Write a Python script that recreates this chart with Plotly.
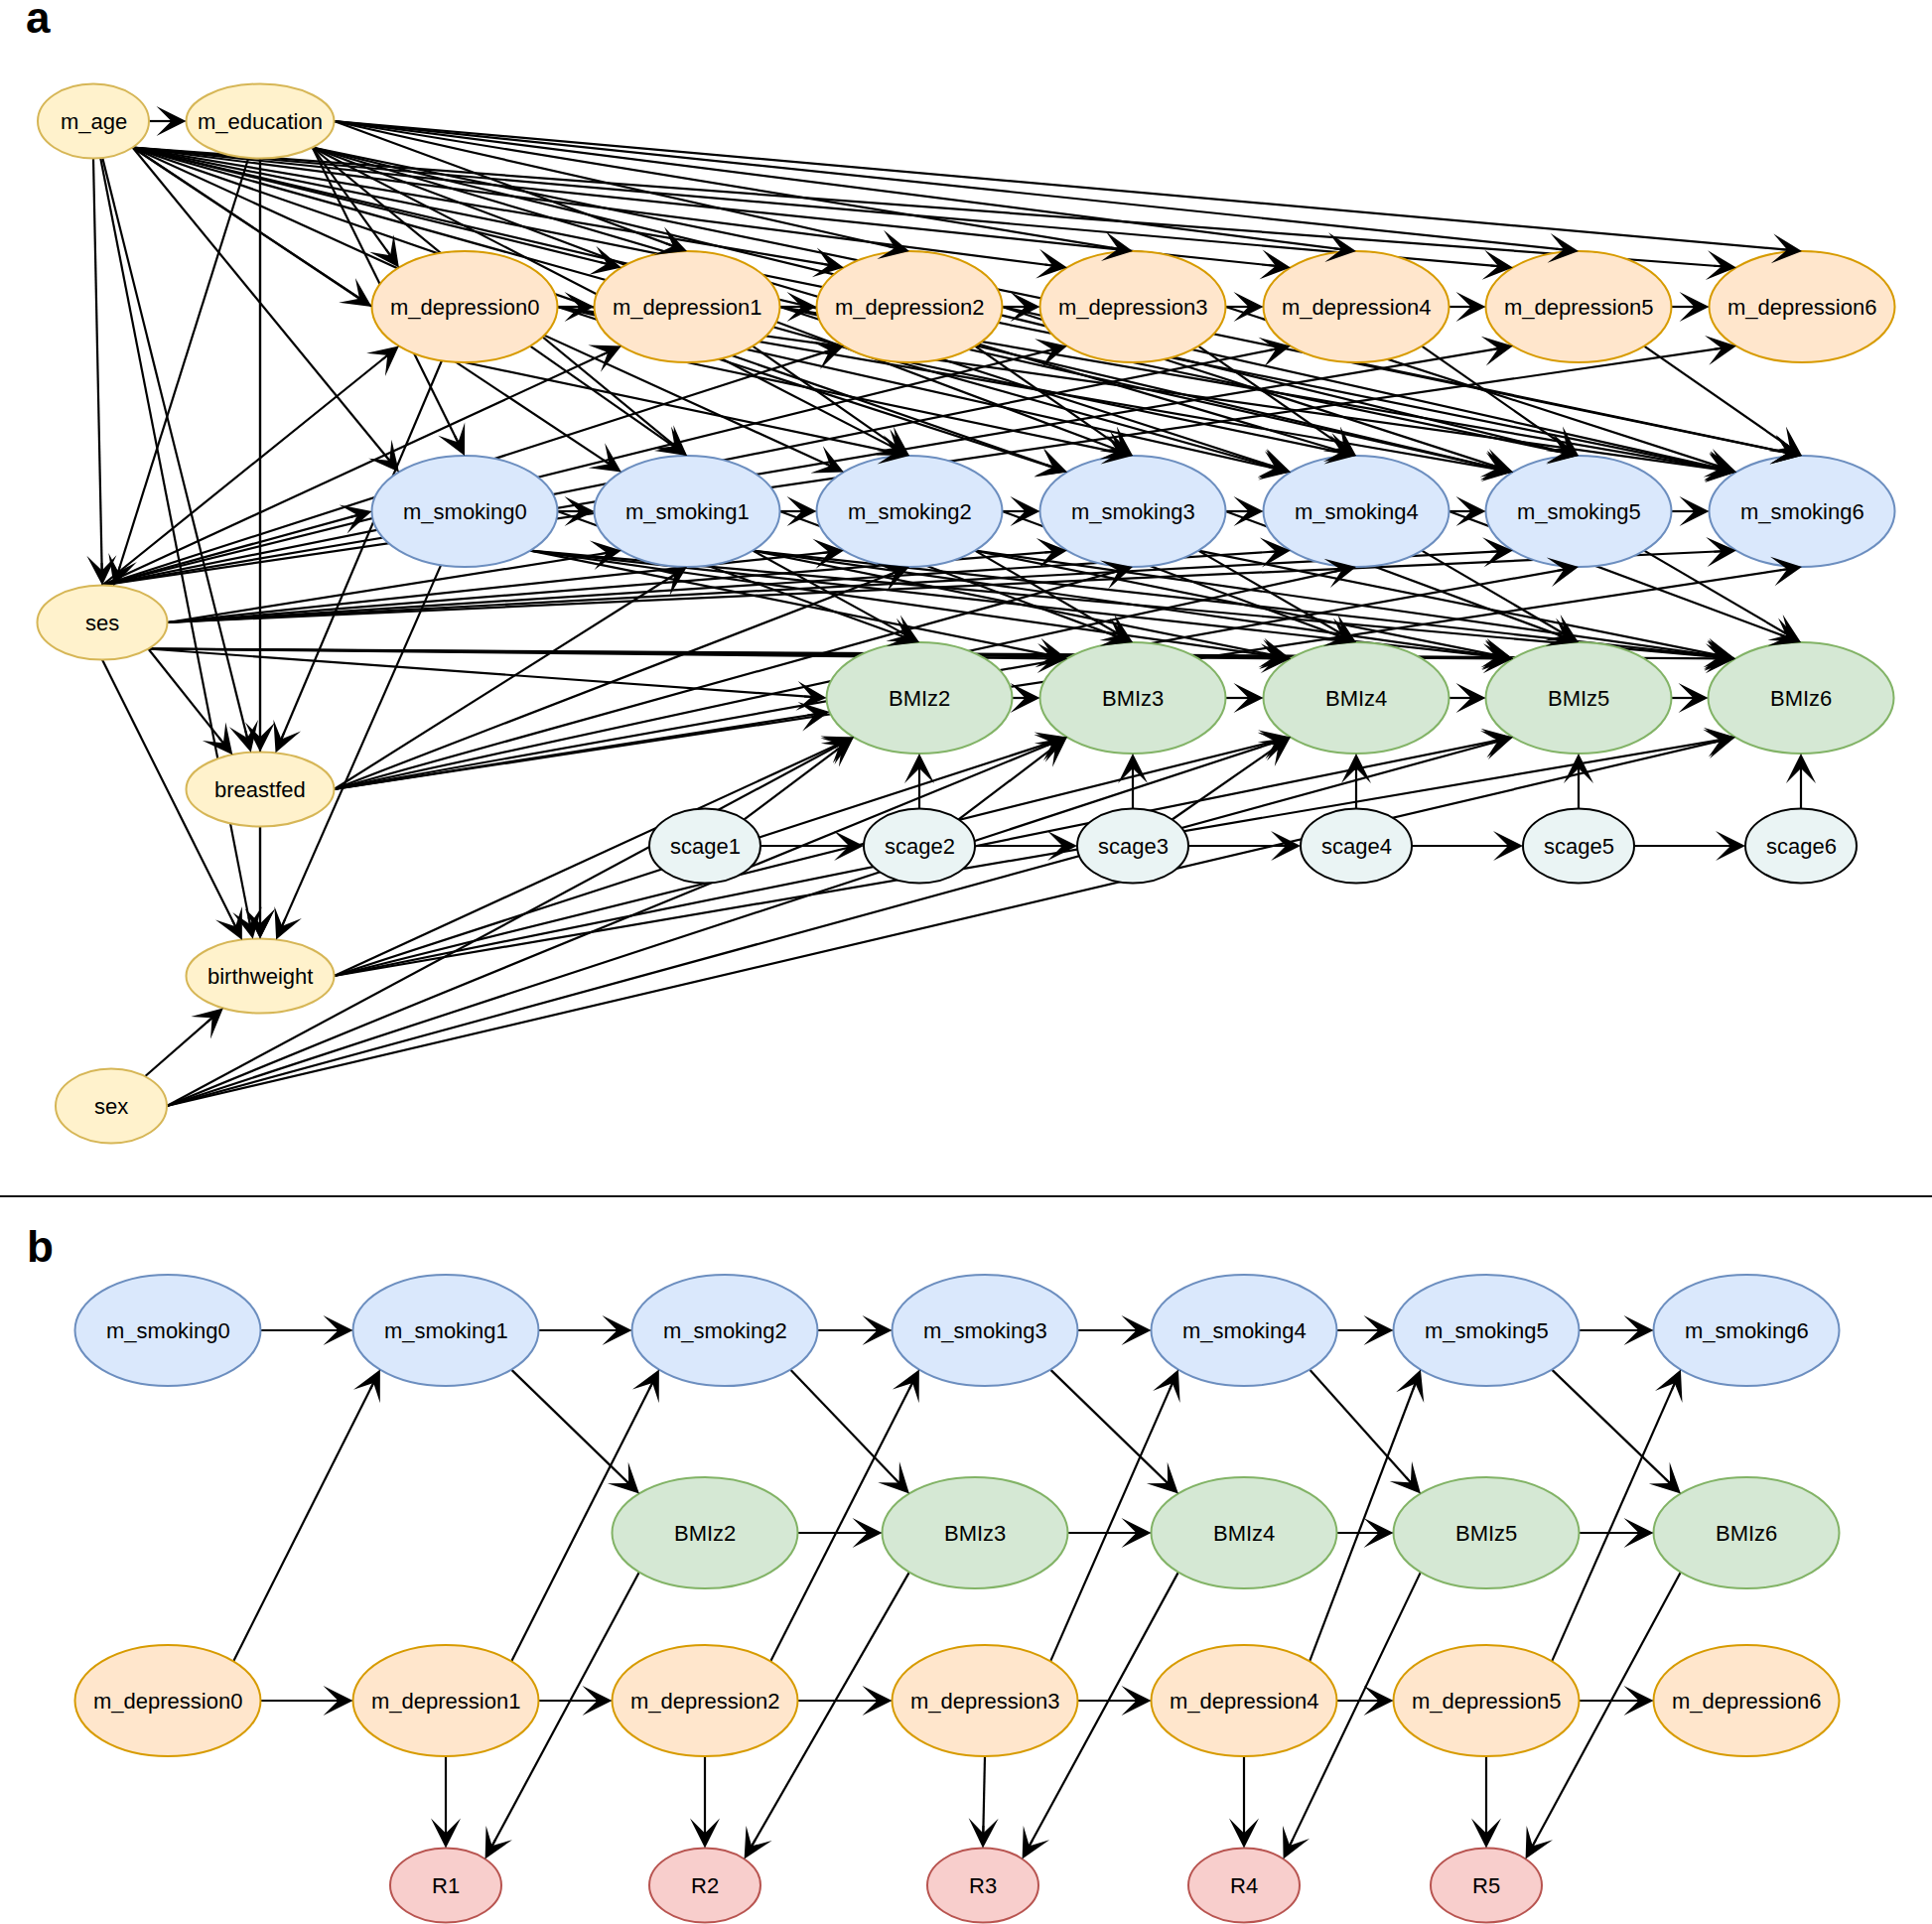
import math
import plotly.graph_objects as go

# ------------------------------------------------------------------
# DATA: node names (panel a and panel b) and directed edges
# ------------------------------------------------------------------
A_BASELINE = ['m_age', 'm_education', 'ses', 'breastfed', 'birthweight', 'sex']
A_DEPRESSION = ['m_depression0', 'm_depression1', 'm_depression2', 'm_depression3',
                'm_depression4', 'm_depression5', 'm_depression6']
A_SMOKING = ['m_smoking0', 'm_smoking1', 'm_smoking2', 'm_smoking3',
             'm_smoking4', 'm_smoking5', 'm_smoking6']
A_BMIZ = ['BMIz2', 'BMIz3', 'BMIz4', 'BMIz5', 'BMIz6']
A_SCAGE = ['scage1', 'scage2', 'scage3', 'scage4', 'scage5', 'scage6']

B_SMOKING = ['m_smoking0', 'm_smoking1', 'm_smoking2', 'm_smoking3',
             'm_smoking4', 'm_smoking5', 'm_smoking6']
B_BMIZ = ['BMIz2', 'BMIz3', 'BMIz4', 'BMIz5', 'BMIz6']
B_DEPRESSION = ['m_depression0', 'm_depression1', 'm_depression2', 'm_depression3',
                'm_depression4', 'm_depression5', 'm_depression6']
B_R = ['R1', 'R2', 'R3', 'R4', 'R5']

A_EDGES = [
    ('m_age', ['m_education', 'ses', 'breastfed', 'birthweight',
               'm_depression0', 'm_depression1', 'm_depression2', 'm_depression3',
               'm_depression4', 'm_depression5', 'm_depression6',
               'm_smoking0', 'm_smoking1', 'm_smoking2', 'm_smoking3',
               'm_smoking4', 'm_smoking5', 'm_smoking6']),
    ('m_education', ['ses', 'breastfed', 'birthweight',
                     'm_depression0', 'm_depression1', 'm_depression2', 'm_depression3',
                     'm_depression4', 'm_depression5', 'm_depression6',
                     'm_smoking0', 'm_smoking1', 'm_smoking2', 'm_smoking3',
                     'm_smoking4', 'm_smoking5', 'm_smoking6']),
    ('ses', ['breastfed', 'birthweight',
             'm_depression0', 'm_depression1', 'm_depression2', 'm_depression3',
             'm_depression4', 'm_depression5', 'm_depression6',
             'm_smoking0', 'm_smoking1', 'm_smoking2', 'm_smoking3',
             'm_smoking4', 'm_smoking5', 'm_smoking6',
             'BMIz2', 'BMIz3', 'BMIz4', 'BMIz5', 'BMIz6']),
    ('breastfed', ['birthweight', 'm_smoking1', 'm_smoking2', 'm_smoking3',
                   'm_smoking4', 'm_smoking5', 'm_smoking6', 'BMIz2']),
    ('birthweight', ['BMIz2', 'BMIz3', 'BMIz4', 'BMIz5', 'BMIz6']),
    ('sex', ['birthweight', 'BMIz2', 'BMIz3', 'BMIz4', 'BMIz5', 'BMIz6']),
    ('m_depression0', ['m_depression1', 'breastfed', 'm_smoking1', 'm_smoking2',
                       'm_smoking3', 'm_smoking4', 'm_smoking5', 'm_smoking6']),
    ('m_depression1', ['m_depression2', 'm_smoking2', 'm_smoking3', 'm_smoking4',
                       'm_smoking5', 'm_smoking6']),
    ('m_depression2', ['m_depression3', 'm_smoking3', 'm_smoking4', 'm_smoking5',
                       'm_smoking6']),
    ('m_depression3', ['m_depression4', 'm_smoking4', 'm_smoking5', 'm_smoking6']),
    ('m_depression4', ['m_depression5', 'm_smoking5', 'm_smoking6']),
    ('m_depression5', ['m_depression6', 'm_smoking6']),
    ('m_smoking0', ['m_smoking1', 'birthweight', 'BMIz2', 'BMIz3', 'BMIz4', 'BMIz5', 'BMIz6']),
    ('m_smoking1', ['m_smoking2', 'BMIz2', 'BMIz3', 'BMIz4', 'BMIz5', 'BMIz6']),
    ('m_smoking2', ['m_smoking3', 'BMIz3', 'BMIz4', 'BMIz5', 'BMIz6']),
    ('m_smoking3', ['m_smoking4', 'BMIz4', 'BMIz5', 'BMIz6']),
    ('m_smoking4', ['m_smoking5', 'BMIz5', 'BMIz6']),
    ('m_smoking5', ['m_smoking6', 'BMIz6']),
    ('BMIz2', ['BMIz3']),
    ('BMIz3', ['BMIz4']),
    ('BMIz4', ['BMIz5']),
    ('BMIz5', ['BMIz6']),
    ('scage1', ['scage2', 'BMIz2']),
    ('scage2', ['scage3', 'BMIz2', 'BMIz3']),
    ('scage3', ['scage4', 'BMIz3', 'BMIz4']),
    ('scage4', ['scage5', 'BMIz4']),
    ('scage5', ['scage6', 'BMIz5']),
    ('scage6', ['BMIz6']),
]

B_EDGES = [
    ('m_smoking0', ['m_smoking1']),
    ('m_smoking1', ['m_smoking2', 'BMIz2']),
    ('m_smoking2', ['m_smoking3', 'BMIz3']),
    ('m_smoking3', ['m_smoking4', 'BMIz4']),
    ('m_smoking4', ['m_smoking5', 'BMIz5']),
    ('m_smoking5', ['m_smoking6', 'BMIz6']),
    ('BMIz2', ['BMIz3', 'R1']),
    ('BMIz3', ['BMIz4', 'R2']),
    ('BMIz4', ['BMIz5', 'R3']),
    ('BMIz5', ['BMIz6', 'R4']),
    ('BMIz6', ['R5']),
    ('m_depression0', ['m_depression1', 'm_smoking1']),
    ('m_depression1', ['m_depression2', 'm_smoking2', 'R1']),
    ('m_depression2', ['m_depression3', 'm_smoking3', 'R2']),
    ('m_depression3', ['m_depression4', 'm_smoking4', 'R3']),
    ('m_depression4', ['m_depression5', 'm_smoking5', 'R4']),
    ('m_depression5', ['m_depression6', 'm_smoking6', 'R5']),
]

PANEL_LABELS = ['a', 'b']

# ------------------------------------------------------------------
# LAYOUT (pixel positions of the diagram) and STYLES
# ------------------------------------------------------------------
W, H = 1946, 1938
BIG = (93.5, 56)
SMALL = (56, 37.5)
MID = (74.5, 37.5)
SES = (65.5, 37.5)

STYLE = {
    'yellow': ('#fff2cc', '#d6b656'),
    'orange': ('#ffe6cc', '#d79b00'),
    'blue':   ('#dae8fc', '#6c8ebf'),
    'green':  ('#d5e8d4', '#82b366'),
    'cyan':   ('#eaf4f4', '#000000'),
    'red':    ('#f8cecc', '#b85450'),
}

A_COL_X = [468, 692, 916, 1141, 1366, 1590, 1815]
A_BMI_X = [926, 1141, 1366, 1590, 1814]
A_SCAGE_X = [710, 926, 1141, 1366, 1590, 1814]

nodes = {}  # key -> (cx, cy, rx, ry, style, label)


def add(panel, name, cx, cy, size, style):
    nodes[(panel, name)] = (cx, cy, size[0], size[1], style, name)


base_pos = {
    'm_age': (94, 122, SMALL), 'm_education': (262, 122, MID),
    'ses': (103, 627, SES), 'breastfed': (262, 795, MID),
    'birthweight': (262, 983, MID), 'sex': (112, 1114, SMALL),
}
for n in A_BASELINE:
    x, y, s = base_pos[n]
    add('a', n, x, y, s, 'yellow')
for i, n in enumerate(A_DEPRESSION):
    add('a', n, A_COL_X[i], 309, BIG, 'orange')
for i, n in enumerate(A_SMOKING):
    add('a', n, A_COL_X[i], 515, BIG, 'blue')
for i, n in enumerate(A_BMIZ):
    add('a', n, A_BMI_X[i], 703, BIG, 'green')
for i, n in enumerate(A_SCAGE):
    add('a', n, A_SCAGE_X[i], 852, SMALL, 'cyan')

B_SMK_X = [169, 449, 730, 992, 1253, 1497, 1759]
B_BMI_X = [710, 982, 1253, 1497, 1759]
B_DEP_X = [169, 449, 710, 992, 1253, 1497, 1759]
B_R_X = [449, 710, 990, 1253, 1497]
for i, n in enumerate(B_SMOKING):
    add('b', n, B_SMK_X[i], 1340, BIG, 'blue')
for i, n in enumerate(B_BMIZ):
    add('b', n, B_BMI_X[i], 1544, BIG, 'green')
for i, n in enumerate(B_DEPRESSION):
    add('b', n, B_DEP_X[i], 1713, BIG, 'orange')
for i, n in enumerate(B_R):
    add('b', n, B_R_X[i], 1899, SMALL, 'red')

ANG = {'E': 0, 'SE': 45, 'S': 90, 'SW': 135, 'W': 180, 'NW': 225, 'N': 270, 'NE': 315}


def kind(n):
    for k in ('m_depression', 'm_smoking', 'BMIz', 'scage', 'R'):
        if n.startswith(k) and n[len(k):].isdigit():
            return k
    return n


def idx(n):
    return int(''.join(c for c in n if c.isdigit()))


def ports_a(s, t):
    ks, kt = kind(s), kind(t)
    if ks == kt and ks in ('m_depression', 'm_smoking', 'BMIz', 'scage'):
        return 'E', 'W'
    if s == 'm_age':
        if t == 'm_education':
            return 'E', 'W'
        if t == 'ses':
            return 'S', 'N'
        if kt == 'm_depression':
            return 'SE', ('W' if idx(t) == 0 else 'NW')
        if kt == 'm_smoking':
            return 'SE', 'NW'
        return None, None
    if s == 'm_education':
        if t == 'breastfed':
            return 'S', 'N'
        if kt == 'm_depression':
            return ('SE', 'NW') if idx(t) == 0 else ('E', 'N')
        if kt == 'm_smoking':
            return 'SE', 'N'
        return None, None
    if s == 'ses':
        if t == 'breastfed':
            return 'SE', None
        if t == 'birthweight':
            return 'S', None
        if kt == 'm_depression':
            return 'N', 'SW'
        if kt == 'm_smoking':
            return ('N', 'W') if idx(t) == 0 else ('E', 'SW')
        if kt == 'BMIz':
            return ('SE', 'W') if idx(t) == 2 else ('SE', 'NW')
    if s == 'breastfed':
        if t == 'birthweight':
            return 'S', 'N'
        if kt == 'm_smoking':
            return 'E', 'S'
        return 'E', None
    if s in ('birthweight', 'sex') and kt == 'BMIz':
        return 'E', 'SW'
    if ks == 'm_depression' and kt == 'm_smoking':
        d = idx(t) - idx(s)
        return {1: ('SE', 'N'), 2: ('S', 'N')}.get(d, ('E', 'NW'))
    if ks == 'm_smoking' and kt == 'BMIz':
        d = idx(t) - idx(s)
        return {1: ('SE', 'N'), 2: ('E', 'N')}.get(d, ('SE', 'NW'))
    if ks == 'scage' and kt == 'BMIz':
        return ('N', 'S') if idx(t) == idx(s) else ('NE', 'SW')
    return None, None


def ports_b(s, t):
    ks, kt = kind(s), kind(t)
    if ks == kt:
        return 'E', 'W'
    if ks == 'm_depression' and kt == 'm_smoking':
        return 'NE', 'SW'
    if ks == 'm_smoking' and kt == 'BMIz':
        return 'SE', 'NW'
    if ks == 'm_depression' and kt == 'R':
        return 'S', 'N'
    if ks == 'BMIz' and kt == 'R':
        return 'SW', 'NE'
    return None, None


def port_pt(key, p):
    cx, cy, rx, ry = nodes[key][:4]
    a = math.radians(ANG[p])
    return cx + rx * math.cos(a), cy + ry * math.sin(a)


def toward(key, px, py):
    cx, cy, rx, ry = nodes[key][:4]
    dx, dy = px - cx, py - cy
    k = 1.0 / math.sqrt((dx / rx) ** 2 + (dy / ry) ** 2)
    return cx + dx * k, cy + dy * k


def endpoints(sk, tk, sp, tp):
    S = port_pt(sk, sp) if sp else None
    T = port_pt(tk, tp) if tp else None
    if S is None and T is None:
        S = toward(sk, nodes[tk][0], nodes[tk][1])
        T = toward(tk, nodes[sk][0], nodes[sk][1])
    elif S is None:
        S = toward(sk, *T)
    elif T is None:
        T = toward(tk, *S)
    return S, T


fig = go.Figure()
annotations = []
HEAD = 24.0

for panel, edges, pf in (('a', A_EDGES, ports_a), ('b', B_EDGES, ports_b)):
    lx, ly = [], []
    for src, targets in edges:
        for tgt in targets:
            sp, tp = pf(src, tgt)
            (x0, y0), (x1, y1) = endpoints((panel, src), (panel, tgt), sp, tp)
            L = math.hypot(x1 - x0, y1 - y0)
            ux, uy = (x1 - x0) / L, (y1 - y0) / L
            lx += [x0, x1 - ux * 9, None]
            ly += [y0, y1 - uy * 9, None]
            annotations.append(dict(
                x=x1, y=y1, ax=x1 - ux * HEAD, ay=y1 - uy * HEAD,
                xref='x', yref='y', axref='x', ayref='y', text='',
                showarrow=True, arrowhead=3, arrowsize=2.5, arrowwidth=2,
                arrowcolor='#000000', standoff=0, startstandoff=0))
    fig.add_trace(go.Scatter(x=lx, y=ly, mode='lines',
                             line=dict(color='#000000', width=2.2),
                             hoverinfo='skip', showlegend=False))

shapes = []
for key, (cx, cy, rx, ry, st, label) in nodes.items():
    fill, line = STYLE[st]
    shapes.append(dict(type='circle', xref='x', yref='y',
                       x0=cx - rx, x1=cx + rx, y0=cy - ry, y1=cy + ry,
                       fillcolor=fill, line=dict(color=line, width=2),
                       layer='above'))
    annotations.append(dict(x=cx, y=cy, xref='x', yref='y', text=label,
                            showarrow=False, xanchor='center', yanchor='middle',
                            font=dict(family='Liberation Sans, Arial, sans-serif',
                                      size=22, color='#000000')))

# separator between panels
shapes.append(dict(type='line', xref='x', yref='y', x0=0, x1=W, y0=1205, y1=1205,
                   line=dict(color='#111111', width=2), layer='above'))

# panel letters
for lab, (x, y) in zip(PANEL_LABELS, [(24, 17), (25, 1255)]):
    annotations.append(dict(x=x, y=y, xref='x', yref='y', text='<b>%s</b>' % lab,
                            showarrow=False, xanchor='left', yanchor='middle',
                            font=dict(family='Liberation Sans, Arial, sans-serif',
                                      size=44, color='#000000')))

fig.update_layout(
    width=W, height=H, margin=dict(l=0, r=0, t=0, b=0),
    paper_bgcolor='white', plot_bgcolor='white',
    xaxis=dict(range=[0, W], visible=False, fixedrange=True, autorange=False),
    yaxis=dict(range=[H, 0], visible=False, fixedrange=True, autorange=False),
    shapes=shapes, annotations=annotations, showlegend=False,
)

fig.write_html('out.html', config={'displayModeBar': False},
               post_script="document.body.style.margin='0px';"
                           "document.body.style.overflow='hidden';")
